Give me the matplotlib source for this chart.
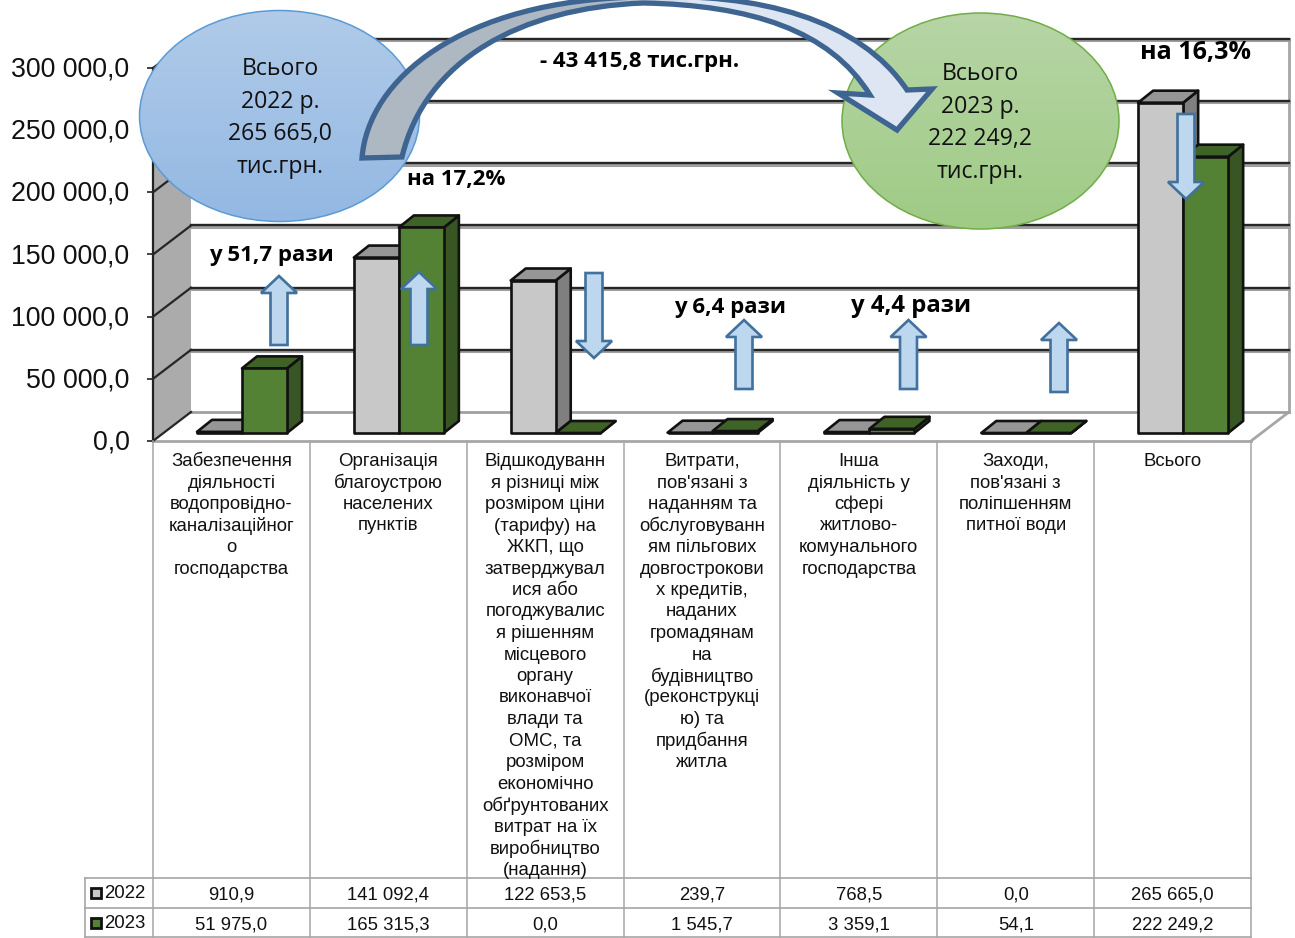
import numpy as np
import matplotlib
matplotlib.use("Agg")  # No GUI
import matplotlib.pyplot as plt
from matplotlib.patches import Ellipse, Polygon, PathPatch
from matplotlib.path import Path
from matplotlib.transforms import ScaledTranslation

W, H = 1295, 938

years = ["2022", "2023"]
categories = [
    "Забезпечення\nдіяльності\nводопровідно-\nканалізаційног\nо\nгосподарства",
    "Організація\nблагоустрою\nнаселених\nпунктів",
    "Відшкодуванн\nя різниці між\nрозміром ціни\n(тарифу) на\nЖКП, що\nзатверджувал\nися або\nпогоджувалис\nя рішенням\nмісцевого\nоргану\nвиконавчої\nвлади та\nОМС, та\nрозміром\nекономічно\nобґрунтованих\nвитрат на їх\nвиробництво\n(надання)",
    "Витрати,\nпов'язані з\nнаданням та\nобслуговуванн\nям пільгових\nдовгострокови\nх кредитів,\nнаданих\nгромадянам\nна\nбудівництво\n(реконструкці\nю) та\nпридбання\nжитла",
    "Інша\nдіяльність у\nсфері\nжитлово-\nкомунального\nгосподарства",
    "Заходи,\nпов'язані з\nполіпшенням\nпитної води",
    "Всього",
]
values_2022 = [910.9, 141092.4, 122653.5, 239.7, 768.5, 0.0, 265665.0]
values_2023 = [51975.0, 165315.3, 0.0, 1545.7, 3359.1, 54.1, 222249.2]
y_ticks = [0, 50000, 100000, 150000, 200000, 250000, 300000]

plt.rcParams['font.family'] = ['Liberation Sans', 'DejaVu Sans']
CALLOUT_FONT = ['Open Sans', 'DejaVu Sans']

GREY = ("#C8C8C8", "#969696", "#7F7F7F")  # front, top, side
GREEN = ("#548235", "#3F6327", "#375623")
EDGE = "#111111"
TABLE_LINE = "#A6A6A6"
ARROW_EDGE = "#41719C"
ARROW_FILL = "#BDD7EE"


def fmt(v):
    return "{:,.1f}".format(v).replace(",", " ").replace(".", ",")


fig = plt.figure(figsize=(W / 100, H / 100), dpi=100)

# Front plane of the chart: category units across, values up
ax = fig.add_axes([153 / W, (938 - 441) / H, 1098 / W, 373 / H])
ax.set_xlim(0, 7)
ax.set_ylim(0, 300000)
ax.patch.set_alpha(0)
for s in ax.spines.values():
    s.set_visible(False)
px_x = 7 / 1098
px_y = 300000 / 373
wall_dx, wall_dy = 38 * px_x, 29 * px_y
bar_dx, bar_dy = 15 * px_x, 12 * px_y
floor_dy = 8 * px_y
bar_w = 45 * px_x
bar_start = 44 * px_x

ax.set_xticks([])
ax.set_yticks(y_ticks)
ax.set_yticklabels([fmt(v) for v in y_ticks], fontsize=19.3, color="#111111")
ax.tick_params(axis="y", length=4.5, width=1.2, pad=12.5, color="#222222")
nudge = ScaledTranslation(0, 1 / 72, fig.dpi_scale_trans)
for lab in ax.get_yticklabels():
    lab.set_transform(lab.get_transform() + nudge)

# Left wall, floor edges and back wall
ax.add_patch(Polygon([(0, 0), (wall_dx, wall_dy), (wall_dx, 300000 + wall_dy), (0, 300000)],
                     closed=True, fc="#ABABAB", ec="none", clip_on=False, zorder=1))
ax.plot([0, 0], [0, 300000], color="#222222", lw=1.6, clip_on=False, zorder=2)
ax.plot([0, 7], [0, 0], color=TABLE_LINE, lw=2, clip_on=False, zorder=2)
ax.plot([7, 7 + wall_dx], [0, wall_dy], color=TABLE_LINE, lw=2, clip_on=False, zorder=2)
ax.plot([7 + wall_dx, 7 + wall_dx], [wall_dy, 300000 + wall_dy], color=TABLE_LINE, lw=2,
        clip_on=False, zorder=2)
for v in y_ticks:
    back = v + wall_dy
    if v == 0:
        ax.plot([wall_dx, 7 + wall_dx], [back, back], color="#A0A0A0", lw=2, clip_on=False, zorder=2)
    else:
        ax.plot([wall_dx, 7 + wall_dx], [back - 1.2 * px_y, back - 1.2 * px_y], color="#A0A0A0", lw=2.2,
                clip_on=False, zorder=2)
        ax.plot([wall_dx, 7 + wall_dx], [back, back], color="#262626", lw=1.7, clip_on=False, zorder=2)
    ax.plot([0, wall_dx], [v, back], color="#262626", lw=1.6, clip_on=False, zorder=2)


def draw_bar(x, v, colors, z):
    y0 = floor_dy
    y1 = floor_dy + v
    x1 = x + bar_w
    style = dict(closed=True, ec=EDGE, lw=1.9, clip_on=False, zorder=z, joinstyle="round")
    ax.add_patch(Polygon([(x1, y0), (x1 + bar_dx, y0 + bar_dy), (x1 + bar_dx, y1 + bar_dy), (x1, y1)],
                         fc=colors[2], **style))
    ax.add_patch(Polygon([(x, y1), (x1, y1), (x1 + bar_dx, y1 + bar_dy), (x + bar_dx, y1 + bar_dy)],
                         fc=colors[1], **style))
    ax.add_patch(Polygon([(x, y0), (x1, y0), (x1, y1), (x, y1)], fc=colors[0], **style))


for i in range(len(categories)):
    draw_bar(i + bar_start, values_2022[i], GREY, 3 + i)
    draw_bar(i + bar_start + bar_w, values_2023[i], GREEN, 3.5 + i)

# Data table under the chart, y in figure pixels
tab = fig.add_axes([153 / W, 0, 1098 / W, (938 - 441) / H])
tab.set_xlim(0, 7)
tab.set_ylim(938, 441)
tab.axis("off")
for i in range(8):
    tab.plot([i, i], [441, 937], color=TABLE_LINE, lw=1.1, clip_on=False)
for y in (878, 908, 937):
    tab.plot([-68 * px_x, 7], [y, y], color=TABLE_LINE, lw=1.2, clip_on=False)
tab.plot([-68 * px_x, -68 * px_x], [878, 937], color=TABLE_LINE, lw=1.2, clip_on=False)
for i, label in enumerate(categories):
    for k, line in enumerate(label.split("\n")):
        tab.text(i + 0.5, 461.5 + 21.5 * k, line, ha="center", va="center", fontsize=13.4, color="#111111")
    tab.text(i + 0.5, 895, fmt(values_2022[i]), ha="center", va="center", fontsize=13.3, color="#111111")
    tab.text(i + 0.5, 925, fmt(values_2023[i]), ha="center", va="center", fontsize=13.3, color="#111111")

# Callouts drawn on top, in figure pixels
top = fig.add_axes([0, 0, 1, 1])
top.set_xlim(0, W)
top.set_ylim(H, 0)
top.axis("off")
top.patch.set_alpha(0)


def gradient_ellipse(cx, cy, rx, ry, c_top, c_bot, edge):
    ramp = np.linspace(0, 1, 256).reshape(-1, 1)
    cmap = matplotlib.colors.LinearSegmentedColormap.from_list("g", [c_top, c_bot])
    im = top.imshow(ramp, cmap=cmap, extent=(cx - rx, cx + rx, cy + ry, cy - ry), aspect="auto",
                    zorder=2, origin="upper")
    e = Ellipse((cx, cy), 2 * rx, 2 * ry, fc="none", ec=edge, lw=1.1, zorder=3)
    top.add_patch(e)
    im.set_clip_path(e)


gradient_ellipse(279.5, 116, 140, 105.5, "#B1CBE9", "#93B8E3", "#5B9BD5")
gradient_ellipse(980.5, 121, 138.5, 108, "#B7D5A6", "#9FCB85", "#70AD47")

curve = Path(
    [(362, 158), (368, 80), (460, 0), (640, -3), (760, -8), (860, 20), (907, 90),
     (932, 89), (897, 130), (838, 93), (870, 95),
     (830, 30), (750, 5), (643, 3), (520, 8), (425, 60), (402, 157), (362, 158)],
    [Path.MOVETO, Path.CURVE4, Path.CURVE4, Path.CURVE4, Path.CURVE4, Path.CURVE4, Path.CURVE4,
     Path.LINETO, Path.LINETO, Path.LINETO, Path.LINETO,
     Path.CURVE4, Path.CURVE4, Path.CURVE4, Path.CURVE4, Path.CURVE4, Path.CURVE4, Path.CLOSEPOLY])
arrow_cmap = matplotlib.colors.LinearSegmentedColormap.from_list(
    "a", [(0, "#AEB8C2"), (0.42, "#AEB8C2"), (0.58, "#DDE6F2"), (1, "#DDE6F2")])
arrow_im = top.imshow(np.linspace(0, 1, 256).reshape(1, -1), cmap=arrow_cmap,
                      extent=(360, 935, 160, -10), aspect="auto", zorder=4)
arrow_patch = PathPatch(curve, fc="none", ec="#3E6491", lw=3.8, zorder=5, joinstyle="miter")
top.add_patch(arrow_patch)
arrow_im.set_clip_path(arrow_patch)
top.set_xlim(0, W)
top.set_ylim(H, 0)


def block_arrow(cx, tail, shoulder, tip):
    hw, sw = 18, 8.5
    pts = [(cx - sw, tail), (cx - sw, shoulder), (cx - hw, shoulder), (cx, tip),
           (cx + hw, shoulder), (cx + sw, shoulder), (cx + sw, tail)]
    top.add_patch(Polygon(pts, closed=True, fc=ARROW_FILL, ec=ARROW_EDGE, lw=1.9, zorder=6,
                          joinstyle="miter"))


block_arrow(279, 345, 293, 276)
block_arrow(419, 345, 289, 272)
block_arrow(594, 273, 341, 358)
block_arrow(744, 389, 337, 320)
block_arrow(908.5, 389, 337, 320)
block_arrow(1059, 392, 340, 323)
block_arrow(1186, 114, 182, 199)

for x, y, s, size in [(271, 255, "у 51,7 рази", 16), (456, 179, "на 17,2%", 16),
                      (640, 61, "- 43 415,8 тис.грн.", 16), (730, 307, "у 6,4 рази", 16),
                      (911, 306, "у 4,4 рази", 17.2), (1195, 52, "на 16,3%", 18)]:
    top.text(x, y, s, ha="center", va="center", fontsize=size, fontweight="bold", color="black",
             family=CALLOUT_FONT, zorder=7)

for k, s in enumerate(["Всього", "2022 р.", "265 665,0", "тис.грн."]):
    top.text(280, 69 + 32.7 * k, s, ha="center", va="center", fontsize=16.6, color="#111111",
             family=CALLOUT_FONT, zorder=7)
for k, s in enumerate(["Всього", "2023 р.", "222 249,2", "тис.грн."]):
    top.text(980, 74 + 32.7 * k, s, ha="center", va="center", fontsize=16.6, color="#111111",
             family=CALLOUT_FONT, zorder=7)

# Legend keys inside the table
for y, year, colors in [(893, years[0], GREY), (923, years[1], GREEN)]:
    top.add_patch(Polygon([(91, y - 5), (101, y - 5), (101, y + 5), (91, y + 5)], closed=True,
                          fc=colors[0], ec=EDGE, lw=2, zorder=7))
    top.text(104, y + 1, year, ha="left", va="center", fontsize=13.4, color="#111111", zorder=7)

fig.savefig("out.png", dpi=100)
